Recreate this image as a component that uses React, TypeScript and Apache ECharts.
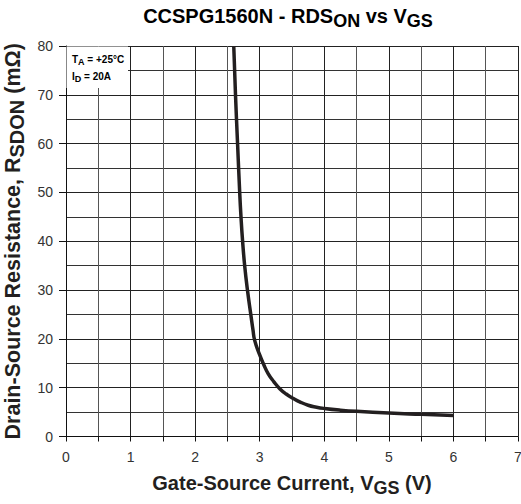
import React, { useEffect, useRef } from "react";
import * as echarts from "echarts";

const vgs = [2.598, 2.625, 2.657, 2.69, 2.71, 2.735, 2.767, 2.81, 2.862, 2.896, 2.922, 3.0, 3.06, 3.13, 3.22, 3.31, 3.41, 3.52, 3.62, 3.75, 3.88, 4.0, 4.25, 4.5, 5.0, 5.5, 6.0];
const rdson = [80, 70, 60, 50, 45, 40, 35, 30, 25, 21.8, 19.7, 16.7, 14.8, 12.9, 11.2, 9.8, 8.7, 7.8, 7.1, 6.4, 6.0, 5.75, 5.4, 5.15, 4.8, 4.55, 4.32];

const xMin = 0;
const xMax = 7;
const yMin = 0;
const yMax = 80;

const titleText = "{a|CCSPG1560N - RDS}{b|ON}{a| vs V}{b|GS}";
const xNameText = "{a|Gate-Source Current, V}{b|GS}{a| (V)}";
const yNameText = "{a|Drain-Source Resistance, R}{b|SDON}{a| (mΩ)}";
const noteLine1 = "{a|T}{s|A}{a| = +25°C}";
const noteLine2 = "{a|I}{s|D}{a| = 20A}";

const FONT = "'Liberation Sans', Arial, Helvetica, sans-serif";
const INK = "#231f20";

const bigRich = {
  a: { fontSize: 20, fontWeight: "bold", fontFamily: FONT, color: INK, lineHeight: 24, verticalAlign: "top" },
  b: { fontSize: 18, fontWeight: "bold", fontFamily: FONT, color: INK, lineHeight: 24, verticalAlign: "bottom", padding: [6, 0, 0, 0] },
};

const yRich = {
  a: { fontSize: 21.5, fontWeight: "bold", fontFamily: FONT, color: INK, lineHeight: 25, verticalAlign: "top" },
  b: { fontSize: 20, fontWeight: "bold", fontFamily: FONT, color: INK, lineHeight: 25, verticalAlign: "bottom", padding: [4, 0, 0, 0] },
};

const noteRich = {
  a: { fontSize: 10, fontWeight: "bold", fontFamily: FONT, color: INK, lineHeight: 12, verticalAlign: "top" },
  s: { fontSize: 9, fontWeight: "bold", fontFamily: FONT, color: INK, lineHeight: 12, verticalAlign: "bottom", padding: [3.5, 0, 0, 0] },
};

export default function App() {
  const ref = useRef<HTMLDivElement>(null);

  useEffect(() => {
    if (!ref.current) return;
    const chart = echarts.init(ref.current, undefined, { renderer: "svg" });
    const data = vgs.map((x, i) => [x, rdson[i]]);

    chart.setOption({
      animation: false,
      backgroundColor: "#ffffff",
      grid: { left: 66, top: 46, right: 3, bottom: 67.5, containLabel: false, outerBoundsMode: "none" },
      xAxis: {
        type: "value",
        min: xMin,
        max: xMax,
        interval: 1,
        name: xNameText,
        nameLocation: "middle",
        nameGap: 36,
        nameTextStyle: { rich: bigRich },
        axisLine: { show: true, onZero: false, lineStyle: { color: "#111", width: 1 } },
        axisTick: { show: true, length: 5, lineStyle: { color: "#111" } },
        minorTick: { show: true, splitNumber: 2, length: 5, lineStyle: { color: "#111" } },
        splitLine: { show: true, lineStyle: { color: "#222", width: 1 } },
        minorSplitLine: { show: true, lineStyle: { color: "#555", width: 1 } },
        axisLabel: { fontSize: 14, color: "#333", fontFamily: FONT, margin: 13 },
      },
      yAxis: {
        type: "value",
        min: yMin,
        max: yMax,
        interval: 10,
        name: yNameText,
        nameLocation: "middle",
        nameGap: 31,
        nameTextStyle: { rich: yRich },
        axisLine: { show: true, onZero: false, lineStyle: { color: "#111", width: 1 } },
        axisTick: { show: true, length: 7, lineStyle: { color: "#111" } },
        minorTick: { show: false, splitNumber: 2 },
        splitLine: { show: true, lineStyle: { color: "#222", width: 1 } },
        minorSplitLine: { show: true, lineStyle: { color: "#333", width: 1 } },
        axisLabel: { fontSize: 14, color: "#333", fontFamily: FONT, margin: 13 },
      },
      series: [
        {
          type: "line",
          data,
          smooth: 0.5,
          showSymbol: false,
          symbol: "none",
          lineStyle: { color: INK, width: 3.5 },
          z: 5,
        },
      ],
      graphic: [
        {
          type: "text",
          x: 288,
          y: 6,
          z: 100,
          style: {
            text: titleText,
            rich: bigRich,
            align: "center",
            verticalAlign: "top",
            textAlign: "center",
            textVerticalAlign: "top",
          },
        },
        {
          type: "rect",
          z: 100,
          shape: { x: 66.5, y: 46.5, width: 61.5, height: 41.5 },
          style: { fill: "#ffffff", stroke: "none" },
        },
        {
          type: "text",
          x: 72,
          y: 54.3,
          z: 101,
          style: { text: noteLine1, rich: noteRich, align: "left", verticalAlign: "top" },
        },
        {
          type: "text",
          x: 72,
          y: 71,
          z: 101,
          style: { text: noteLine2, rich: noteRich, align: "left", verticalAlign: "top" },
        },
      ],
    });

    return () => {
      chart.dispose();
    };
  }, []);

  return (
    <div
      ref={ref}
      style={{ position: "absolute", left: 0, top: 0, width: 521, height: 504, background: "#fff" }}
    />
  );
}
